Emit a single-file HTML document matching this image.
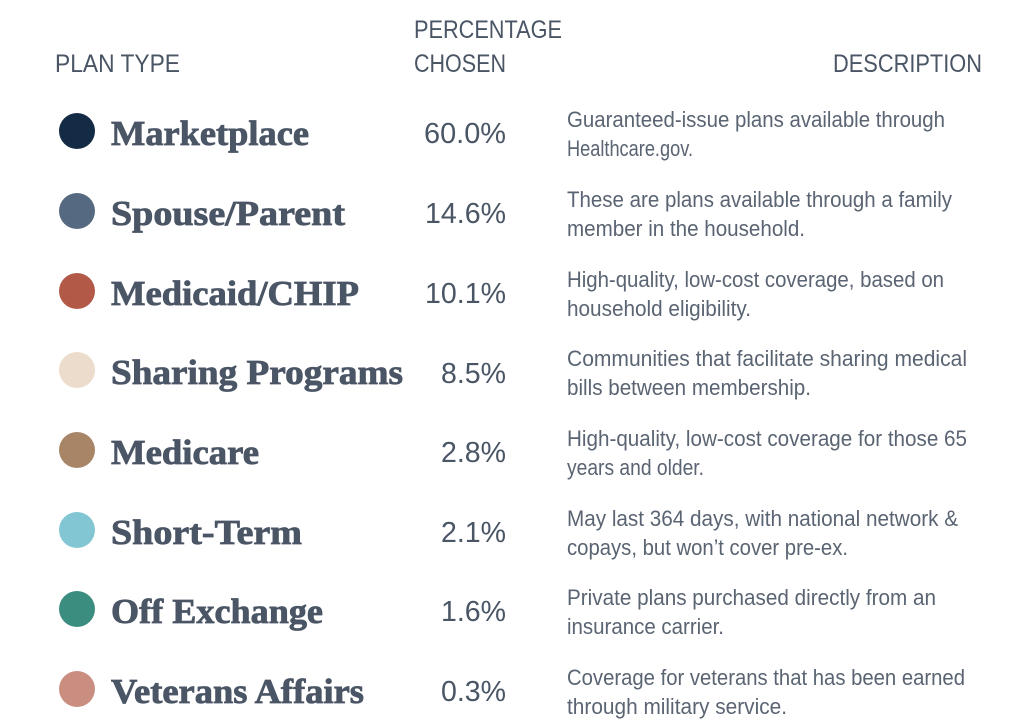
<!DOCTYPE html>
<html><head><meta charset="utf-8"><style>
html,body{margin:0;padding:0;background:#fff;}
svg{display:block}
.h{font-family:"Liberation Sans Narrow","Liberation Sans",sans-serif;font-size:25px;fill:#4a5565}
.n{font-family:"Liberation Serif",serif;font-weight:bold;font-size:35px;fill:#4a5565;stroke:#4a5565;stroke-width:0.8px}
.p{font-family:"Liberation Sans Narrow","Liberation Sans",sans-serif;font-size:29px;fill:#4a5565}
.d{font-family:"Liberation Sans Narrow","Liberation Sans",sans-serif;font-size:22px;fill:#5a6472}
</style></head><body>
<svg width="1024" height="727" xmlns="http://www.w3.org/2000/svg">
<text class="h" x="55" y="72" textLength="125" lengthAdjust="spacingAndGlyphs">PLAN TYPE</text>
<text class="h" x="414" y="38" textLength="148" lengthAdjust="spacingAndGlyphs">PERCENTAGE</text>
<text class="h" x="414" y="72" textLength="92" lengthAdjust="spacingAndGlyphs">CHOSEN</text>
<text class="h" x="833" y="72" textLength="149" lengthAdjust="spacingAndGlyphs">DESCRIPTION</text>

<g>
<circle cx="77" cy="131" r="18" fill="#142b45"/>
<text class="n" x="111" y="145" textLength="198" lengthAdjust="spacingAndGlyphs">Marketplace</text>
<text class="p" x="424" y="143" textLength="82" lengthAdjust="spacingAndGlyphs">60.0%</text>
<text class="d" x="567" y="127" textLength="378" lengthAdjust="spacingAndGlyphs">Guaranteed-issue plans available through</text>
<text class="d" x="567" y="156" textLength="126" lengthAdjust="spacingAndGlyphs">Healthcare.gov.</text>
</g>
<g>
<circle cx="77" cy="211" r="18" fill="#556a80"/>
<text class="n" x="111" y="225" textLength="234" lengthAdjust="spacingAndGlyphs">Spouse/Parent</text>
<text class="p" x="425" y="223" textLength="81" lengthAdjust="spacingAndGlyphs">14.6%</text>
<text class="d" x="567" y="207" textLength="385" lengthAdjust="spacingAndGlyphs">These are plans available through a family</text>
<text class="d" x="567" y="236" textLength="238" lengthAdjust="spacingAndGlyphs">member in the household.</text>
</g>
<g>
<circle cx="77" cy="291" r="18" fill="#b25a47"/>
<text class="n" x="111" y="305" textLength="248" lengthAdjust="spacingAndGlyphs">Medicaid/CHIP</text>
<text class="p" x="425" y="303" textLength="81" lengthAdjust="spacingAndGlyphs">10.1%</text>
<text class="d" x="567" y="287" textLength="377" lengthAdjust="spacingAndGlyphs">High-quality, low-cost coverage, based on</text>
<text class="d" x="567" y="316" textLength="184" lengthAdjust="spacingAndGlyphs">household eligibility.</text>
</g>
<g>
<circle cx="77" cy="370" r="18" fill="#ecdccb"/>
<text class="n" x="111" y="384" textLength="292" lengthAdjust="spacingAndGlyphs">Sharing Programs</text>
<text class="p" x="441" y="383" textLength="65" lengthAdjust="spacingAndGlyphs">8.5%</text>
<text class="d" x="567" y="366" textLength="400" lengthAdjust="spacingAndGlyphs">Communities that facilitate sharing medical</text>
<text class="d" x="567" y="395" textLength="244" lengthAdjust="spacingAndGlyphs">bills between membership.</text>
</g>
<g>
<circle cx="77" cy="450" r="18" fill="#a88566"/>
<text class="n" x="111" y="464" textLength="148" lengthAdjust="spacingAndGlyphs">Medicare</text>
<text class="p" x="441" y="462" textLength="65" lengthAdjust="spacingAndGlyphs">2.8%</text>
<text class="d" x="567" y="446" textLength="400" lengthAdjust="spacingAndGlyphs">High-quality, low-cost coverage for those 65</text>
<text class="d" x="567" y="475" textLength="137" lengthAdjust="spacingAndGlyphs">years and older.</text>
</g>
<g>
<circle cx="77" cy="530" r="18" fill="#82c6d4"/>
<text class="n" x="111" y="544" textLength="191" lengthAdjust="spacingAndGlyphs">Short-Term</text>
<text class="p" x="441" y="542" textLength="65" lengthAdjust="spacingAndGlyphs">2.1%</text>
<text class="d" x="567" y="526" textLength="391" lengthAdjust="spacingAndGlyphs">May last 364 days, with national network &amp;</text>
<text class="d" x="567" y="555" textLength="281" lengthAdjust="spacingAndGlyphs">copays, but won’t cover pre-ex.</text>
</g>
<g>
<circle cx="77" cy="609" r="18" fill="#3b8d80"/>
<text class="n" x="111" y="623" textLength="212" lengthAdjust="spacingAndGlyphs">Off Exchange</text>
<text class="p" x="441" y="621" textLength="65" lengthAdjust="spacingAndGlyphs">1.6%</text>
<text class="d" x="567" y="605" textLength="369" lengthAdjust="spacingAndGlyphs">Private plans purchased directly from an</text>
<text class="d" x="567" y="634" textLength="157" lengthAdjust="spacingAndGlyphs">insurance carrier.</text>
</g>
<g>
<circle cx="77" cy="689" r="18" fill="#c98e80"/>
<text class="n" x="111" y="703" textLength="253" lengthAdjust="spacingAndGlyphs">Veterans Affairs</text>
<text class="p" x="441" y="701" textLength="65" lengthAdjust="spacingAndGlyphs">0.3%</text>
<text class="d" x="567" y="685" textLength="398" lengthAdjust="spacingAndGlyphs">Coverage for veterans that has been earned</text>
<text class="d" x="567" y="714" textLength="220" lengthAdjust="spacingAndGlyphs">through military service.</text>
</g>
</svg>
</body></html>
